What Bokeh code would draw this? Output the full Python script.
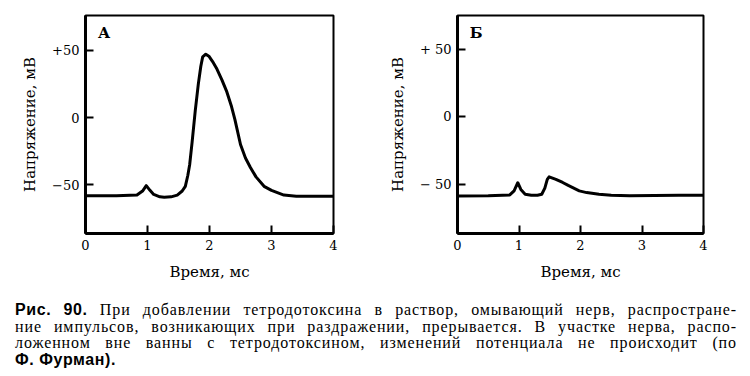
from bokeh.plotting import figure
from bokeh.layouts import column, row
from bokeh.models import Div, Label, FixedTicker
from bokeh.embed import file_html
from bokeh.resources import INLINE

# ---- data ----
t_a = [0, 0.5, 0.83, 0.92, 0.98, 1.04, 1.1, 1.2, 1.27, 1.38, 1.48, 1.56, 1.61, 1.65, 1.68, 1.72,
       1.77, 1.82, 1.86, 1.89, 1.94, 1.99, 2.05, 2.12, 2.2, 2.28, 2.35, 2.41, 2.5, 2.58, 2.66,
       2.75, 2.88, 3.0, 3.2, 3.4, 4.0]
v_a = [-58, -58, -57.5, -54.5, -50.5, -54, -57, -58.8, -59.1, -58.8, -57.5, -54.5, -51, -43, -35, -18,
       5, 25, 38, 45, 47, 45.5, 41.5, 36, 28, 19, 9, -1.5, -20, -30, -37,
       -44, -51, -54, -57.5, -58.3, -58.3]

t_b = [0, 0.5, 0.85, 0.92, 0.98, 1.03, 1.1, 1.2, 1.3, 1.37, 1.42, 1.46, 1.49, 1.6, 1.71, 1.8,
       1.98, 2.1, 2.3, 2.5, 2.8, 3.2, 3.6, 4.0]
v_b = [-58.8, -58.6, -58, -55, -49, -54, -57.5, -58.3, -58.3, -57.5, -53, -46.5, -44.6, -46.5, -48.8, -51,
       -55, -56.3, -57.5, -58.2, -58.6, -58.5, -58.3, -58.3]

x_ticks = [0, 1, 2, 3, 4]
y_ticks = [-50, 0, 50]
y_labels_a = {-50: "\u221250", 0: "0", 50: "+50"}
y_labels_b = {-50: "\u2212 50", 0: "0", 50: "+ 50"}

SERIF = "DejaVu Serif"


def make_panel(t, v, letter, ylabels, yr, bl, br, bt, bb):
    p = figure(width=375, height=300, x_range=(0, 4), y_range=yr,
               output_backend="svg", toolbar_location=None,
               min_border_left=bl, min_border_right=br,
               min_border_top=bt, min_border_bottom=bb)
    p.line(t, v, line_width=3, color="black", line_join="round")
    p.grid.visible = False
    p.outline_line_color = "black"
    p.outline_line_width = 2
    p.outline_line_alpha = 1

    xa = p.xaxis[0]
    xa.ticker = FixedTicker(ticks=x_ticks)
    xa.major_tick_in = 8
    xa.major_tick_out = 0
    xa.minor_tick_line_color = None
    xa.axis_line_width = 3
    xa.major_tick_line_width = 2
    xa.major_label_standoff = 6
    xa.major_label_text_font = SERIF
    xa.major_label_text_font_size = "13px"
    xa.major_label_text_color = "black"
    xa.axis_label = "Время, мс"
    xa.axis_label_text_font = SERIF
    xa.axis_label_text_font_style = "normal"
    xa.axis_label_text_font_size = "15px"
    xa.axis_label_text_color = "black"
    xa.axis_label_standoff = 10

    ya = p.yaxis[0]
    ya.ticker = FixedTicker(ticks=y_ticks)
    ya.major_label_overrides = ylabels
    ya.major_tick_in = 8
    ya.major_tick_out = 0
    ya.minor_tick_line_color = None
    ya.axis_line_width = 3
    ya.major_tick_line_width = 2
    ya.major_label_standoff = 6
    ya.major_label_text_font = SERIF
    ya.major_label_text_font_size = "13px"
    ya.major_label_text_color = "black"
    ya.axis_label = "Напряжение, мВ"
    ya.axis_label_text_font = SERIF
    ya.axis_label_text_font_style = "normal"
    ya.axis_label_text_font_size = "15px"
    ya.axis_label_text_color = "black"
    ya.axis_label_standoff = 10

    p.add_layout(Label(x=0.2, y=yr[1] - 13, text=letter, text_font=SERIF,
                       text_font_size="15px", text_font_style="bold",
                       text_baseline="middle", text_color="black"))
    return p


pa = make_panel(t_a, v_a, "А", y_labels_a, (-86, 75.7), 85, 42, 15, 65)
pb = make_panel(t_b, v_b, "Б", y_labels_b, (-86.6, 74.9), 82, 47, 14, 67)

BOLD = "style=\"font-family:'Liberation Sans',sans-serif;font-weight:bold;letter-spacing:0.6px;\""
cap_lines = [
    "<span %s>Рис. 90.</span> При добавлении тетродотоксина в раствор, омывающий нерв, распростране-" % BOLD,
    "ние импульсов, возникающих при раздражении, прерывается. В участке нерва, распо-",
    "ложенном вне ванны с тетродотоксином, изменений потенциала не происходит (по",
]
last_line = "<span %s>Ф. Фурман).</span>" % BOLD

line_style = "width:722px;text-align:justify;text-align-last:justify;"
html = "".join("<div style='%s'>%s</div>" % (line_style, s) for s in cap_lines) \
    + "<div style='width:722px;text-align:left;'>%s</div>" % last_line

caption = Div(text=html, width=722, height=76, margin=(0, 0, 0, 15),
              styles={"font-family": "'Liberation Serif', serif", "font-size": "16px",
                      "line-height": "16.5px", "letter-spacing": "0.9px",
                      "padding-top": "2px", "color": "black"})

layout = column(row(pa, pb, spacing=0), caption, spacing=0)

open("out.html", "w").write(file_html(layout, INLINE))
